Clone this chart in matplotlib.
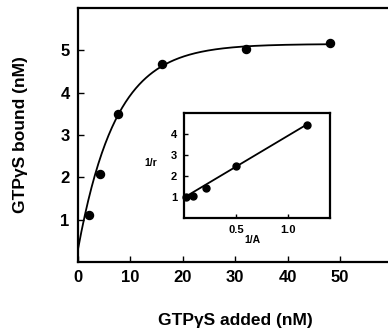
import numpy as np
import matplotlib
matplotlib.use("Agg")
import matplotlib.pyplot as plt

plt.rcParams['font.family'] = ['Liberation Sans', 'DejaVu Sans']

# Main data: GTPgS added vs bound
added = [2.1, 4.2, 7.7, 16.1, 32.1, 48.1]
bound = [1.12, 2.07, 3.5, 4.68, 5.04, 5.18]
# fitted saturation curve parameters
fit_y0, fit_amp, fit_k = 0.3, 4.85, 7.2
fit_xmax = 48.5

# Inset: double reciprocal
inv_A = [0.02, 0.085, 0.21, 0.5, 1.18]
inv_r = [1.0, 1.05, 1.45, 2.5, 4.45]
line_x = [0.0, 1.18]
line_y = [0.97, 4.45]

main_xticks = [0, 10, 20, 30, 40, 50]
main_yticks = [1, 2, 3, 4, 5]
inset_xticks = [0.5, 1.0]
inset_xticklabels = ['0.5', '1.0']
inset_yticks = [1, 2, 3, 4]

fig = plt.figure(figsize=(3.88, 3.30), dpi=100)
ax = fig.add_axes([78/388, 68/330, 314.4/388, 254/330])
xs = np.linspace(0, fit_xmax, 300)
ax.plot(xs, fit_y0 + fit_amp * (1 - np.exp(-xs / fit_k)), color='black', lw=1.3)
ax.plot(added, bound, 'o', color='black', ms=5.8, clip_on=False)
ax.set_xlim(0, 60)
ax.set_ylim(0, 6.0)
ax.set_xticks(main_xticks)
ax.set_yticks(main_yticks)
ax.spines['right'].set_visible(False)
for s in ['left', 'bottom', 'top']:
    ax.spines[s].set_linewidth(1.6)
ax.tick_params(direction='in', length=4, width=1.0, labelsize=12, pad=6)
for lab in ax.get_xticklabels() + ax.get_yticklabels():
    lab.set_fontweight('bold')
ax.set_xlabel('GTPγS added (nM)', fontsize=12.5, fontweight='bold', labelpad=20)
ax.set_ylabel('GTPγS bound (nM)', fontsize=12.5, fontweight='bold', labelpad=23)

ins = fig.add_axes([184/388, 112/330, 145.6/388, 105/330])
ins.plot(line_x, line_y, color='black', lw=1.3)
ins.plot(inv_A, inv_r, 'o', color='black', ms=5, clip_on=False)
ins.set_xlim(0, 1.4)
ins.set_ylim(0, 5)
ins.set_xticks(inset_xticks)
ins.set_xticklabels(inset_xticklabels)
ins.set_yticks(inset_yticks)
for s in ins.spines.values():
    s.set_linewidth(1.6)
ins.tick_params(direction='in', length=3, width=1.0, labelsize=8, pad=5)
for lab in ins.get_xticklabels() + ins.get_yticklabels():
    lab.set_fontweight('bold')
ins.text(-0.23, 0.52, '1/r', transform=ins.transAxes, fontsize=7.5,
         fontweight='bold', ha='center', va='center')
ins.text(0.47, -0.21, '1/A', transform=ins.transAxes, fontsize=7.5,
         fontweight='bold', ha='center', va='center')

fig.savefig('out.png', dpi=100)
